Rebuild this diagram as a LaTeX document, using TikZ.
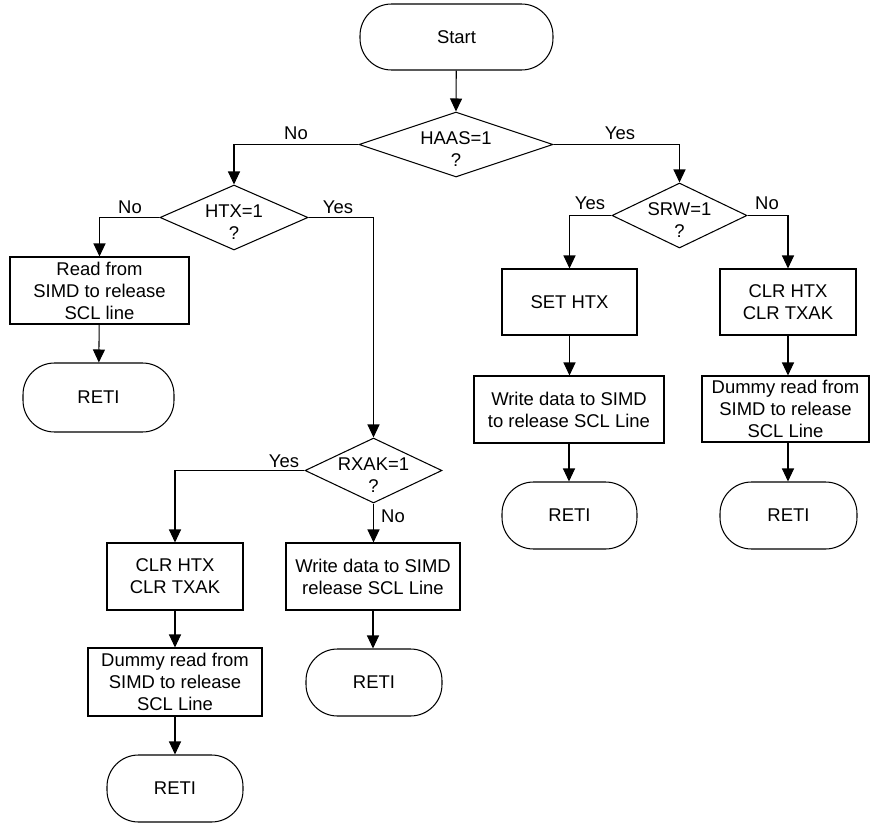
\documentclass[tikz,border=0pt]{standalone}
\usepackage{fontspec}
\setmainfont{Liberation Sans}
\usetikzlibrary{shapes.geometric,arrows.meta}
\begin{document}
\begin{tikzpicture}[x=0.02cm,y=-0.02cm,
  every node/.style={font=\fontsize{10.5}{12.5}\selectfont},
  base/.style={draw,line width=0.6pt,align=center,inner sep=1pt},
  term/.style={base,rectangle,rounded corners=0.63cm},
  proc/.style={base,rectangle},
  dec/.style={draw,line width=0.6pt,diamond,inner sep=0pt,aspect=2},
  dtext/.style={align=center,yshift=-0.09cm},
  lbl/.style={inner sep=0pt},
  arr/.style={line width=0.6pt,-{Triangle[length=0.26cm,width=0.24cm]}}]
\useasboundingbox (0,0) rectangle (870,825);
% terminals and process boxes
\node[term,minimum width=3.86cm,minimum height=1.32cm] (start) at (456.5,37) {Start};
\node[dec,minimum width=3.88cm,minimum height=1.30cm,label={[dtext]center:HAAS=1\\?}] (haas) at (456,144.5) {};
\node[dec,minimum width=2.96cm,minimum height=1.30cm,label={[dtext]center:HTX=1\\?}] (htx) at (234,217.5) {};
\node[dec,minimum width=2.70cm,minimum height=1.30cm,label={[dtext]center:SRW=1\\?}] (srw) at (679.5,215.5) {};
\node[dec,minimum width=2.74cm,minimum height=1.30cm,label={[dtext]center:RXAK=1\\?}] (rxak) at (373.5,470.5) {};

\node[proc,minimum width=3.58cm,minimum height=1.34cm] (read) at (99.5,290.5) {Read from\\SIMD to release\\SCL line};
\node[term,minimum width=3.02cm,minimum height=1.38cm] (reti1) at (98.5,397.5) {RETI};

\node[proc,minimum width=2.70cm,minimum height=1.32cm] (set) at (569.5,302) {SET HTX};
\node[proc,minimum width=2.72cm,minimum height=1.32cm] (clrR) at (788,302) {CLR HTX\\CLR TXAK};
\node[proc,minimum width=3.80cm,minimum height=1.34cm] (writeR) at (569,409.5) {Write data to SIMD\\to release SCL Line};
\node[proc,minimum width=3.34cm,minimum height=1.32cm] (dummyR) at (785.5,409) {Dummy read from\\SIMD to release\\SCL Line};
\node[term,minimum width=2.70cm,minimum height=1.34cm] (retiR1) at (569.5,515.5) {RETI};
\node[term,minimum width=2.74cm,minimum height=1.34cm] (retiR2) at (788.5,515.5) {RETI};

\node[proc,minimum width=2.72cm,minimum height=1.34cm] (clrL) at (175,576.5) {CLR HTX\\CLR TXAK};
\node[proc,minimum width=3.48cm,minimum height=1.34cm] (writeL) at (373,576.5) {Write data to SIMD\\release SCL Line};
\node[proc,minimum width=3.48cm,minimum height=1.36cm] (dummyL) at (175,682) {Dummy read from\\SIMD to release\\SCL Line};
\node[term,minimum width=2.72cm,minimum height=1.34cm] (retiM) at (374,682.5) {RETI};
\node[term,minimum width=2.72cm,minimum height=1.34cm] (retiL) at (175,788.5) {RETI};

% branch labels
\node[lbl] (l1) at (296,133) {No};
\node[lbl] (l2) at (620,133) {Yes};
\node[lbl] (l3) at (130,207) {No};
\node[lbl] (l4) at (338,207) {Yes};
\node[lbl] (l5) at (590,203) {Yes};
\node[lbl] (l6) at (767,203) {No};
\node[lbl] (l7) at (284,461) {Yes};
\node[lbl] (l8) at (393,516) {No};

% connectors
\draw[arr] (start) -- (haas.north);
\draw[arr] (haas.west) -| (htx.north);
\draw[arr] (haas.east) -| (srw.north);
\draw[arr] (htx.west) -| (read.north);
\draw[arr] (read) -- (reti1);
\draw[arr] (htx.east) -| (rxak.north);
\draw[arr] (srw.west) -| (set.north);
\draw[arr] (srw.east) -| (clrR.north);
\draw[arr] (set) -- (set |- writeR.north);
\draw[arr] (clrR) -- (clrR |- dummyR.north);
\draw[arr] (writeR) -- (writeR |- retiR1.north);
\draw[arr] (clrR |- dummyR.south) -- (clrR |- retiR2.north);
\draw[arr] (rxak.west) -| (clrL.north);
\draw[arr] (rxak.south) -- (rxak |- writeL.north);
\draw[arr] (clrL) -- (dummyL);
\draw[arr] (dummyL) -- (retiL);
\draw[arr] (writeL) -- (writeL |- retiM.north);
\end{tikzpicture}
\end{document}
